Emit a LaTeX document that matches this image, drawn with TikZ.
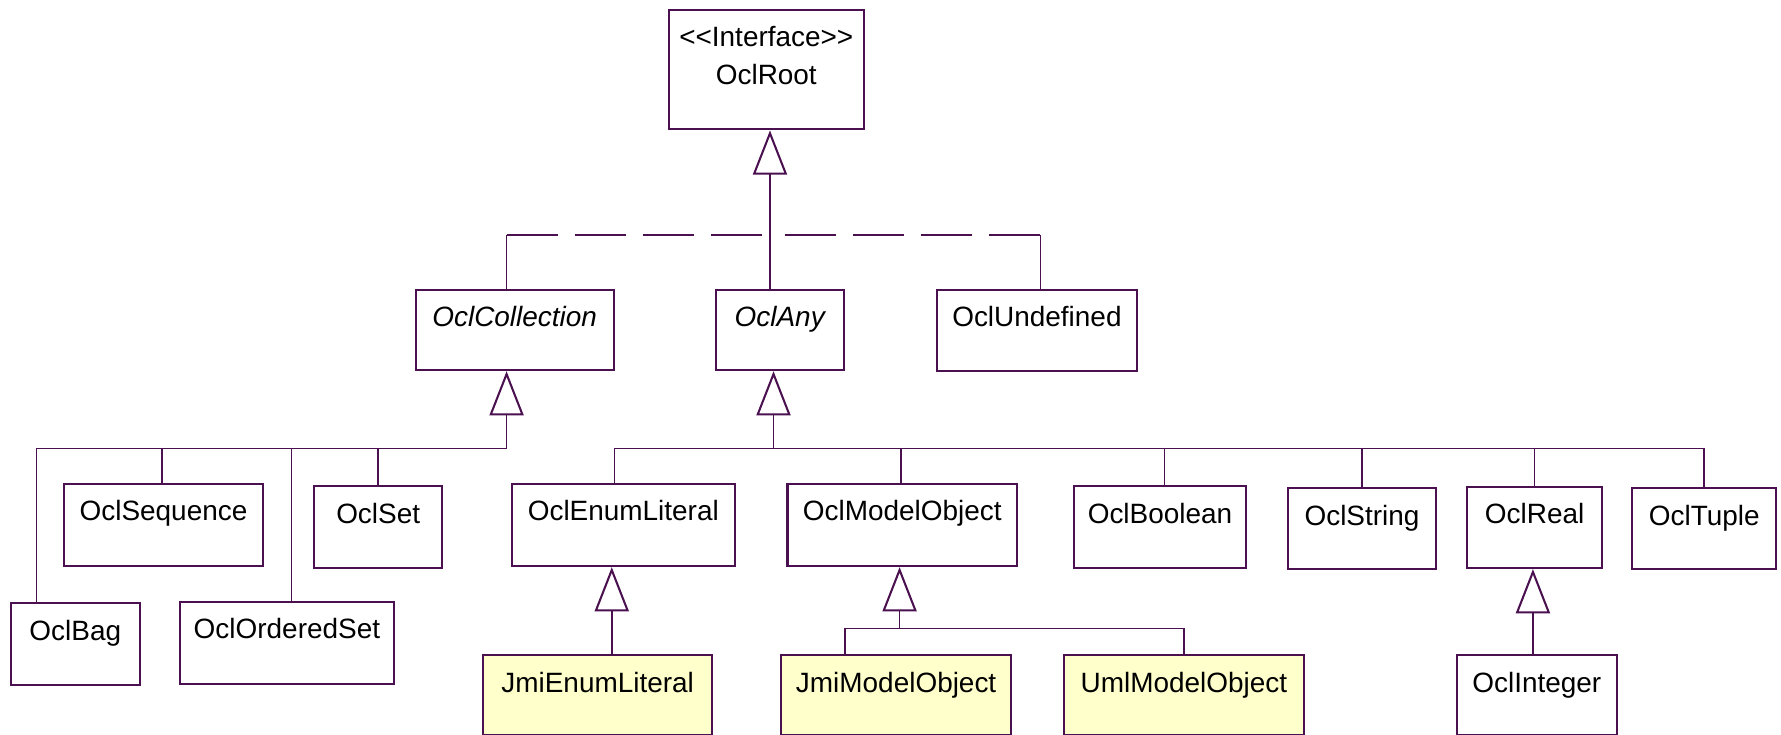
\documentclass[tikz,border=0pt]{standalone}
\usepackage{fontspec}
\setmainfont{Liberation Sans}
\usetikzlibrary{arrows.meta}
\definecolor{umlline}{HTML}{4B1050}
\definecolor{umlfill}{HTML}{FFFFCC}
\tikzset{
  cls/.style={draw=umlline, line width=0.9pt, fill=white, rectangle, inner sep=0pt, anchor=north west},
  yel/.style={fill=umlfill},
  lbl/.style={font=\fontsize{12.3}{14}\selectfont, inner sep=0pt, anchor=base, yshift=-16.75pt, text=black},
  conn/.style={draw=umlline, line width=0.7pt},
  gen/.style={conn, -{Triangle[open, length=19.5pt, width=15pt, line width=0.9pt]}},
  realize/.style={conn, dash pattern=on 22.5pt off 7.5pt},
}
\newcommand\umlclass[7][]{%
  \node[cls,#1,minimum width={(#5-#3)*0.5pt},minimum height={(#6-#4)*0.5pt},label={[lbl]north:#7}] (#2) at (#3,#4) {};}
\begin{document}
\begin{tikzpicture}[x=0.5pt,y=-0.5pt]
\useasboundingbox (0,0) rectangle (1568,647);
% classes
\node[cls,minimum width={(759.5-588)*0.5pt},minimum height={(113-8)*0.5pt},
  label={[lbl,yshift=0.25pt]north:<\kern0pt<Interface>\kern0pt>},
  label={[lbl,yshift=-16.5pt]north:OclRoot}] (root) at (588,8) {};
\umlclass{coll}{365}{254}{539.4}{325}{\itshape OclCollection}
\umlclass{any}{629.3}{254}{741.8}{325}{\itshape OclAny}
\umlclass{undef}{824}{254}{1000}{326}{OclUndefined}
\umlclass{seq}{55.6}{425}{230.5}{497.5}{OclSequence}
\umlclass{set}{275.6}{427}{388.5}{499.5}{OclSet}
\umlclass{bag}{8.8}{530}{122}{602}{OclBag}
\umlclass{oset}{157.4}{529}{346}{601}{OclOrderedSet}
\umlclass{enum}{449.8}{425}{645.9}{497.5}{OclEnumLiteral}
\umlclass{model}{692.4}{425}{894.5}{497.5}{OclModelObject}
\umlclass{bool}{944.4}{427}{1096.3}{499.5}{OclBoolean}
\umlclass{str}{1133.4}{428.8}{1263}{500.4}{OclString}
\umlclass{real}{1290.6}{427.6}{1409.8}{499.2}{OclReal}
\umlclass{tuple}{1436}{428.8}{1563}{500.4}{OclTuple}
\umlclass[yel]{jenum}{424.6}{575.8}{626}{646}{JmiEnumLiteral}
\umlclass[yel]{jmo}{686.6}{575.8}{889.5}{646}{JmiModelObject}
\umlclass[yel]{umo}{936}{575.8}{1146.8}{646}{UmlModelObject}
\umlclass{int}{1281.9}{575.8}{1422.3}{646}{OclInteger}
% root level
\path ([xshift=-4.28pt]any.north) coordinate (at);
\draw[gen] (at) -- (at |- root.south);
\coordinate (cd) at (446,207);
\coordinate (ud) at (916,207);
\coordinate (rj) at (677,207);
\draw[conn] (cd) -- (cd |- coll.north);
\draw[conn] (ud) -- (ud |- undef.north);
\draw[realize] (cd) -- (rj);
\draw[realize] (ud) -- (rj);
% collection tree
\coordinate (cj) at (446,395);
\draw[gen] (cj) -- (cj |- coll.south);
\draw[conn] (cj) -| ([xshift=11.75pt]bag.north west);
\path ([xshift=-0.6pt]seq.north) coordinate (sq);
\draw[conn] (cj -| sq) -- (sq);
\path ([xshift=2.05pt]oset.north) coordinate (os);
\draw[conn] (cj -| os) -- (os);
\draw[conn] (cj -| set.north) -- (set.north);
% any tree
\coordinate (aj) at (681,395);
\draw[gen] (aj) -- (aj |- any.south);
\draw[conn] ([xshift=-3.9pt]enum.north) |- (aj) -| (tuple.north);
\path ([xshift=-0.5pt]model.north) coordinate (mo);
\draw[conn] (aj -| mo) -- (mo);
\path ([xshift=1.9pt]bool.north) coordinate (bo);
\draw[conn] (aj -| bo) -- (bo);
\draw[conn] (aj -| str.north) -- (str.north);
\draw[conn] (aj -| real.north) -- (real.north);
% enum literal
\path ([xshift=6.2pt]jenum.north) coordinate (je);
\draw[gen] (je) -- (je |- enum.south);
% model object
\coordinate (mj) at (792,553.5);
\draw[gen] (mj) -- (mj |- model.south);
\draw[conn] ([xshift=-22.4pt]jmo.north) |- (mj) -| (umo.north);
% real
\path ([xshift=-1.7pt]int.north) coordinate (ij);
\draw[gen] (ij) -- (ij |- real.south);
\end{tikzpicture}
\end{document}
